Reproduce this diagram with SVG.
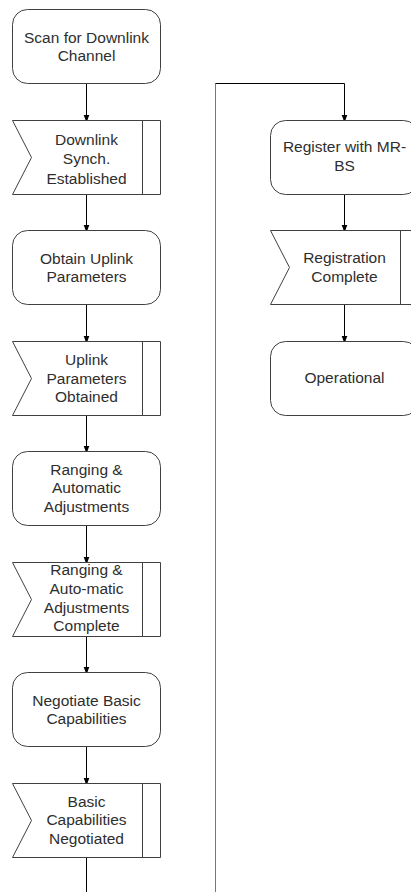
<svg xmlns="http://www.w3.org/2000/svg" width="411" height="892" viewBox="0 0 411 892">
<style>
.box{fill:#fff;stroke:#404040;stroke-width:1}
.ln{fill:none;stroke:#404040;stroke-width:1}
.t{font-family:"Liberation Sans",Arial,sans-serif;font-size:15.5px;fill:#2e2e2e;text-anchor:middle}
.c{fill:none;stroke:#000;stroke-width:1}
</style>
<defs>
<marker id="ah" markerWidth="8" markerHeight="11" refX="8" refY="4" orient="auto" markerUnits="userSpaceOnUse" viewBox="0 0 11 8">
<path d="M0,0 L11,4 L0,8 Z" fill="#000"/>
</marker>
</defs>
<rect width="411" height="892" fill="#fff"/>
<g id="connectors">
<line class="c" x1="86.5" y1="83.5" x2="86.5" y2="120.5" marker-end="url(#ah)"/>
<line class="c" x1="86.5" y1="194.5" x2="86.5" y2="230.5" marker-end="url(#ah)"/>
<line class="c" x1="86.5" y1="304.5" x2="86.5" y2="341.5" marker-end="url(#ah)"/>
<line class="c" x1="86.5" y1="415.5" x2="86.5" y2="451.5" marker-end="url(#ah)"/>
<line class="c" x1="86.5" y1="525.5" x2="86.5" y2="562.5" marker-end="url(#ah)"/>
<line class="c" x1="86.5" y1="636.5" x2="86.5" y2="672.5" marker-end="url(#ah)"/>
<line class="c" x1="86.5" y1="746.5" x2="86.5" y2="783.5" marker-end="url(#ah)"/>
<line class="c" x1="86.5" y1="857.5" x2="86.5" y2="892"/>
<line x1="215.5" y1="892" x2="215.5" y2="83.5" stroke="#777" stroke-width="1"/>
<path class="c" d="M215.5,83.5 H344.5 V120.5" marker-end="url(#ah)"/>
<line class="c" x1="344.5" y1="194.5" x2="344.5" y2="230.5" marker-end="url(#ah)"/>
<line class="c" x1="344.5" y1="304.5" x2="344.5" y2="341.5" marker-end="url(#ah)"/>
</g>
<g id="scan">
<rect class="box" x="12.5" y="9.5" width="148" height="74" rx="15"/>
<text class="t" x="86.5" y="43">Scan for Downlink</text>
<text class="t" x="86.5" y="61">Channel</text>
</g>
<g id="dl-synch">
<path class="box" d="M12.5,120.5 H160.5 V194.5 H12.5 L31.5,157.5 Z"/>
<line class="ln" x1="142.5" y1="120.5" x2="142.5" y2="194.5"/>
<text class="t" x="86.5" y="145">Downlink</text>
<text class="t" x="86.5" y="164">Synch.</text>
<text class="t" x="86.5" y="184">Established</text>
</g>
<g id="obtain-ul">
<rect class="box" x="12.5" y="230.5" width="148" height="74" rx="15"/>
<text class="t" x="86.5" y="264">Obtain Uplink</text>
<text class="t" x="86.5" y="282">Parameters</text>
</g>
<g id="ul-obtained">
<path class="box" d="M12.5,341.5 H160.5 V415.5 H12.5 L31.5,378.5 Z"/>
<line class="ln" x1="142.5" y1="341.5" x2="142.5" y2="415.5"/>
<text class="t" x="86.5" y="365">Uplink</text>
<text class="t" x="86.5" y="384">Parameters</text>
<text class="t" x="86.5" y="402">Obtained</text>
</g>
<g id="ranging">
<rect class="box" x="12.5" y="451.5" width="148" height="74" rx="15"/>
<text class="t" x="86.5" y="474.5">Ranging &amp;</text>
<text class="t" x="86.5" y="493">Automatic</text>
<text class="t" x="86.5" y="511.5">Adjustments</text>
</g>
<g id="ranging-complete">
<path class="box" d="M12.5,562.5 H160.5 V636.5 H12.5 L31.5,599.5 Z"/>
<line class="ln" x1="142.5" y1="562.5" x2="142.5" y2="636.5"/>
<text class="t" x="86.5" y="574.5">Ranging &amp;</text>
<text class="t" x="86.5" y="593.5">Auto-matic</text>
<text class="t" x="86.5" y="612.5">Adjustments</text>
<text class="t" x="86.5" y="631">Complete</text>
</g>
<g id="negotiate">
<rect class="box" x="12.5" y="672.5" width="148" height="74" rx="15"/>
<text class="t" x="86.5" y="705.5">Negotiate Basic</text>
<text class="t" x="86.5" y="723.5">Capabilities</text>
</g>
<g id="negotiated">
<path class="box" d="M12.5,783.5 H160.5 V857.5 H12.5 L31.5,820.5 Z"/>
<line class="ln" x1="142.5" y1="783.5" x2="142.5" y2="857.5"/>
<text class="t" x="86.5" y="806.5">Basic</text>
<text class="t" x="86.5" y="825">Capabilities</text>
<text class="t" x="86.5" y="843.5">Negotiated</text>
</g>
<g id="register">
<rect class="box" x="270.5" y="120.5" width="148" height="74" rx="15"/>
<text class="t" x="344.5" y="152">Register with MR-</text>
<text class="t" x="344.5" y="170.5">BS</text>
</g>
<g id="reg-complete">
<path class="box" d="M270.5,230.5 H418.5 V304.5 H270.5 L289.5,267.5 Z"/>
<line class="ln" x1="400.5" y1="230.5" x2="400.5" y2="304.5"/>
<text class="t" x="344.5" y="262.5">Registration</text>
<text class="t" x="344.5" y="282">Complete</text>
</g>
<g id="operational">
<rect class="box" x="270.5" y="341.5" width="148" height="74" rx="15"/>
<text class="t" x="344.5" y="383">Operational</text>
</g>
</svg>
